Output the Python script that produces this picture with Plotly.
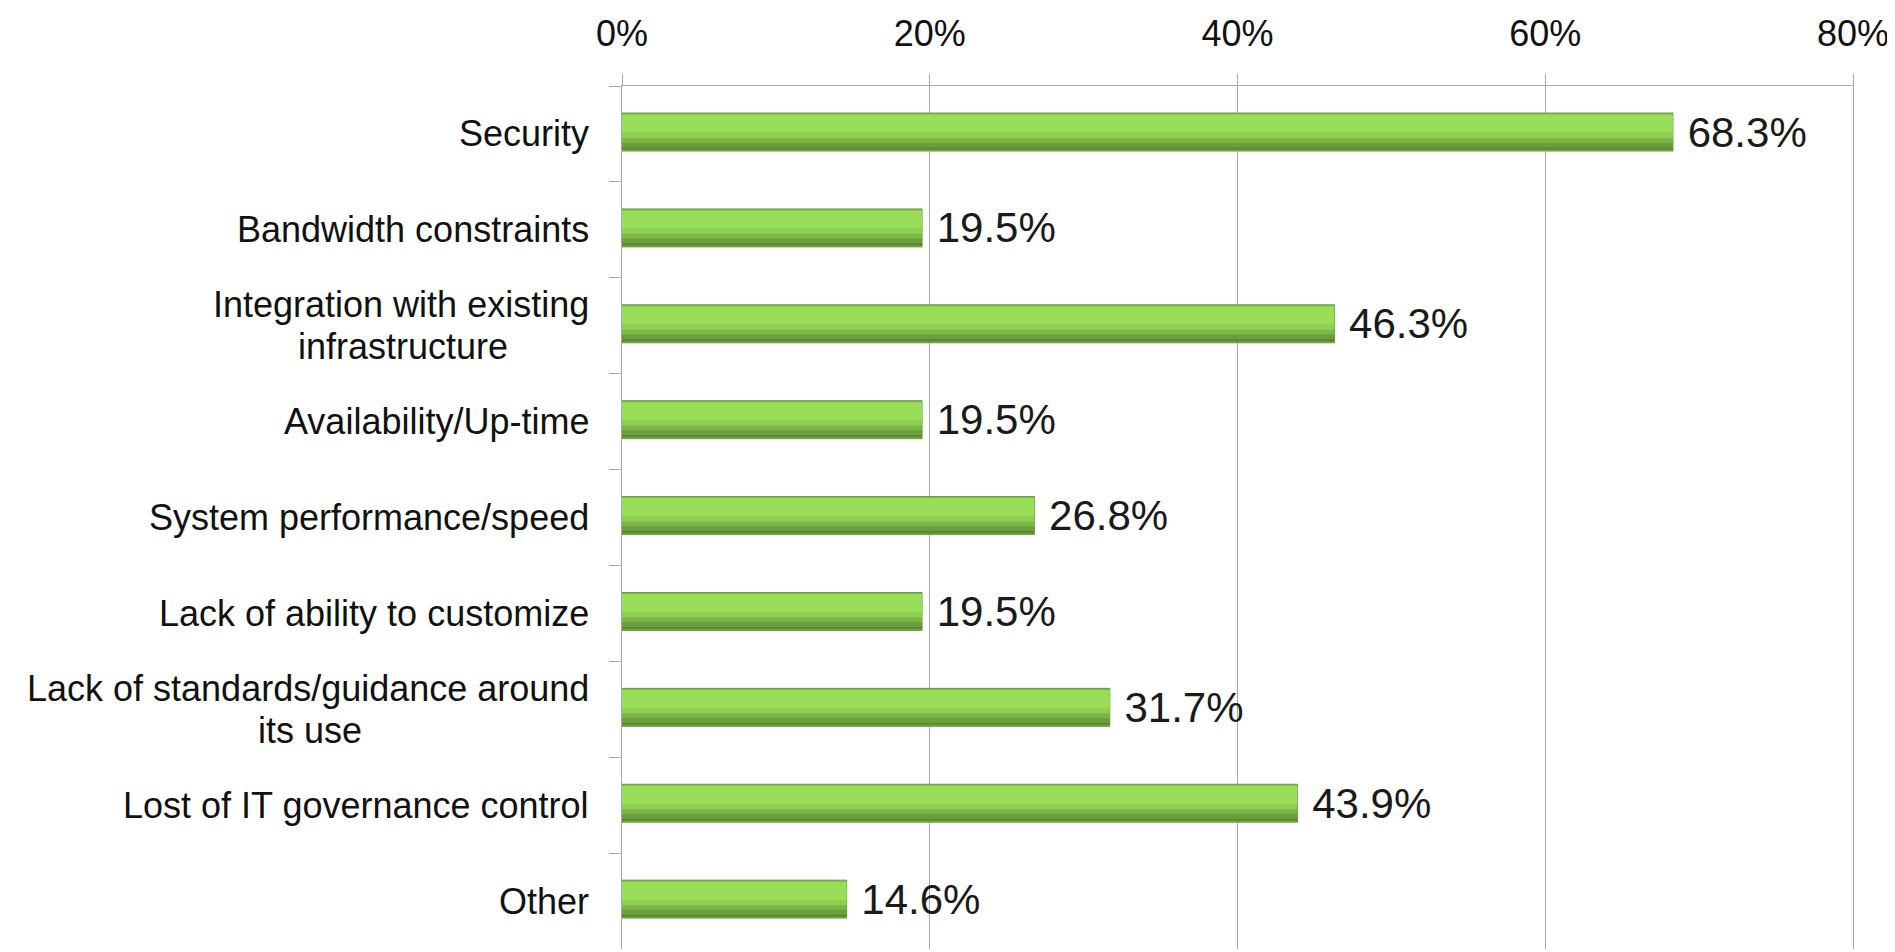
import plotly.graph_objects as go

categories = [
    "Security",
    "Bandwidth constraints",
    "Integration with existing<br>infrastructure",
    "Availability/Up-time",
    "System performance/speed",
    "Lack of ability to customize",
    "Lack of standards/guidance around<br>its use",
    "Lost of IT governance control",
    "Other",
]
values = [68.3, 19.5, 46.3, 19.5, 26.8, 19.5, 31.7, 43.9, 14.6]
tick_vals = [0, 20, 40, 60, 80]
tick_text = ["0%", "20%", "40%", "60%", "80%"]

FONT = "Liberation Sans, Arial, sans-serif"
GRID = "#A8A8A8"
W = 0.396
LABEL_SIZE = 36

# Arial advance widths (per 1000 em) for estimating label line widths
_AW = dict(zip("abcdefghijklmnopqrstuvwxyz",
               [556, 556, 500, 556, 556, 278, 556, 556, 222, 222, 500, 222, 833,
                556, 556, 556, 556, 333, 500, 278, 556, 500, 722, 500, 500, 500]))
_AW.update({" ": 278, "/": 278, "-": 333, "I": 278, "L": 556, "T": 611,
            "S": 667, "A": 667, "B": 667, "U": 722, "O": 778})


def text_width(s, size):
    return sum(_AW.get(ch, 556) for ch in s) * size / 1000.0


fig = go.Figure()
# base bar with edge
fig.add_trace(go.Bar(
    y=categories, x=values, orientation="h",
    width=W, offset=-W / 2 - 0.02,
    marker=dict(color="#7DB847", line=dict(color="#6A9A3E", width=1)),
    text=["\u00a0" + f"{v:.1f}%" for v in values], textposition="outside",
    textfont=dict(family=FONT, size=42, color="#1a1a1a"),
    constraintext="none", cliponaxis=False, hoverinfo="skip",
))
# gradient-like bands (fractions of bar thickness from top)
bands = [
    (0.04, 0.52, "#98DE58"),
    (0.52, 0.66, "#8DD050"),
    (0.66, 0.78, "#7CB745"),
    (0.78, 0.90, "#6B9F3C"),
    (0.90, 0.97, "#5C8A33"),
]
for f0, f1, col in bands:
    fig.add_trace(go.Bar(
        y=categories, x=values, orientation="h",
        width=W * (f1 - f0), offset=-W / 2 - 0.02 + W * f0,
        marker=dict(color=col, line=dict(width=0)),
        hoverinfo="skip",
    ))

annotations = []
LINE = 42
GAP = 31
for c in categories:
    lines = c.split("<br>")
    n = len(lines)
    w0 = text_width(lines[0], LABEL_SIZE)
    for i, ln in enumerate(lines):
        if i == 0:
            xa, xs = "right", -GAP
        else:
            xa, xs = "center", -GAP - w0 / 2
        annotations.append(dict(
            x=0, xref="paper", y=c, yref="y", text=ln, showarrow=False,
            xanchor=xa, yanchor="middle", xshift=xs,
            yshift=((n - 1) / 2 - i) * LINE,
            font=dict(family=FONT, size=LABEL_SIZE, color="#111111"),
        ))

fig.update_layout(
    width=1887, height=944,
    margin=dict(l=614, r=42, t=78, b=3, autoexpand=False),
    paper_bgcolor="white", plot_bgcolor="white",
    barmode="overlay", showlegend=False,
    annotations=annotations,
    font=dict(family=FONT, color="#111111"),
    xaxis=dict(
        side="top", range=[0, 80], tickvals=tick_vals, ticktext=tick_text,
        showgrid=True, gridcolor=GRID, gridwidth=1,
        showline=True, linecolor=GRID, linewidth=1,
        ticks="outside", ticklen=11, tickcolor=GRID,
        ticklabelstandoff=14, zeroline=False, automargin=False,
        tickfont=dict(family=FONT, size=36, color="#111111"),
    ),
    yaxis=dict(
        autorange="reversed", showgrid=False, automargin=False,
        showline=True, linecolor=GRID, linewidth=1, mirror=True,
        ticks="outside", ticklen=12, tickcolor=GRID, tickson="boundaries",
        showticklabels=False,
    ),
)

fig.write_html("out.html")
